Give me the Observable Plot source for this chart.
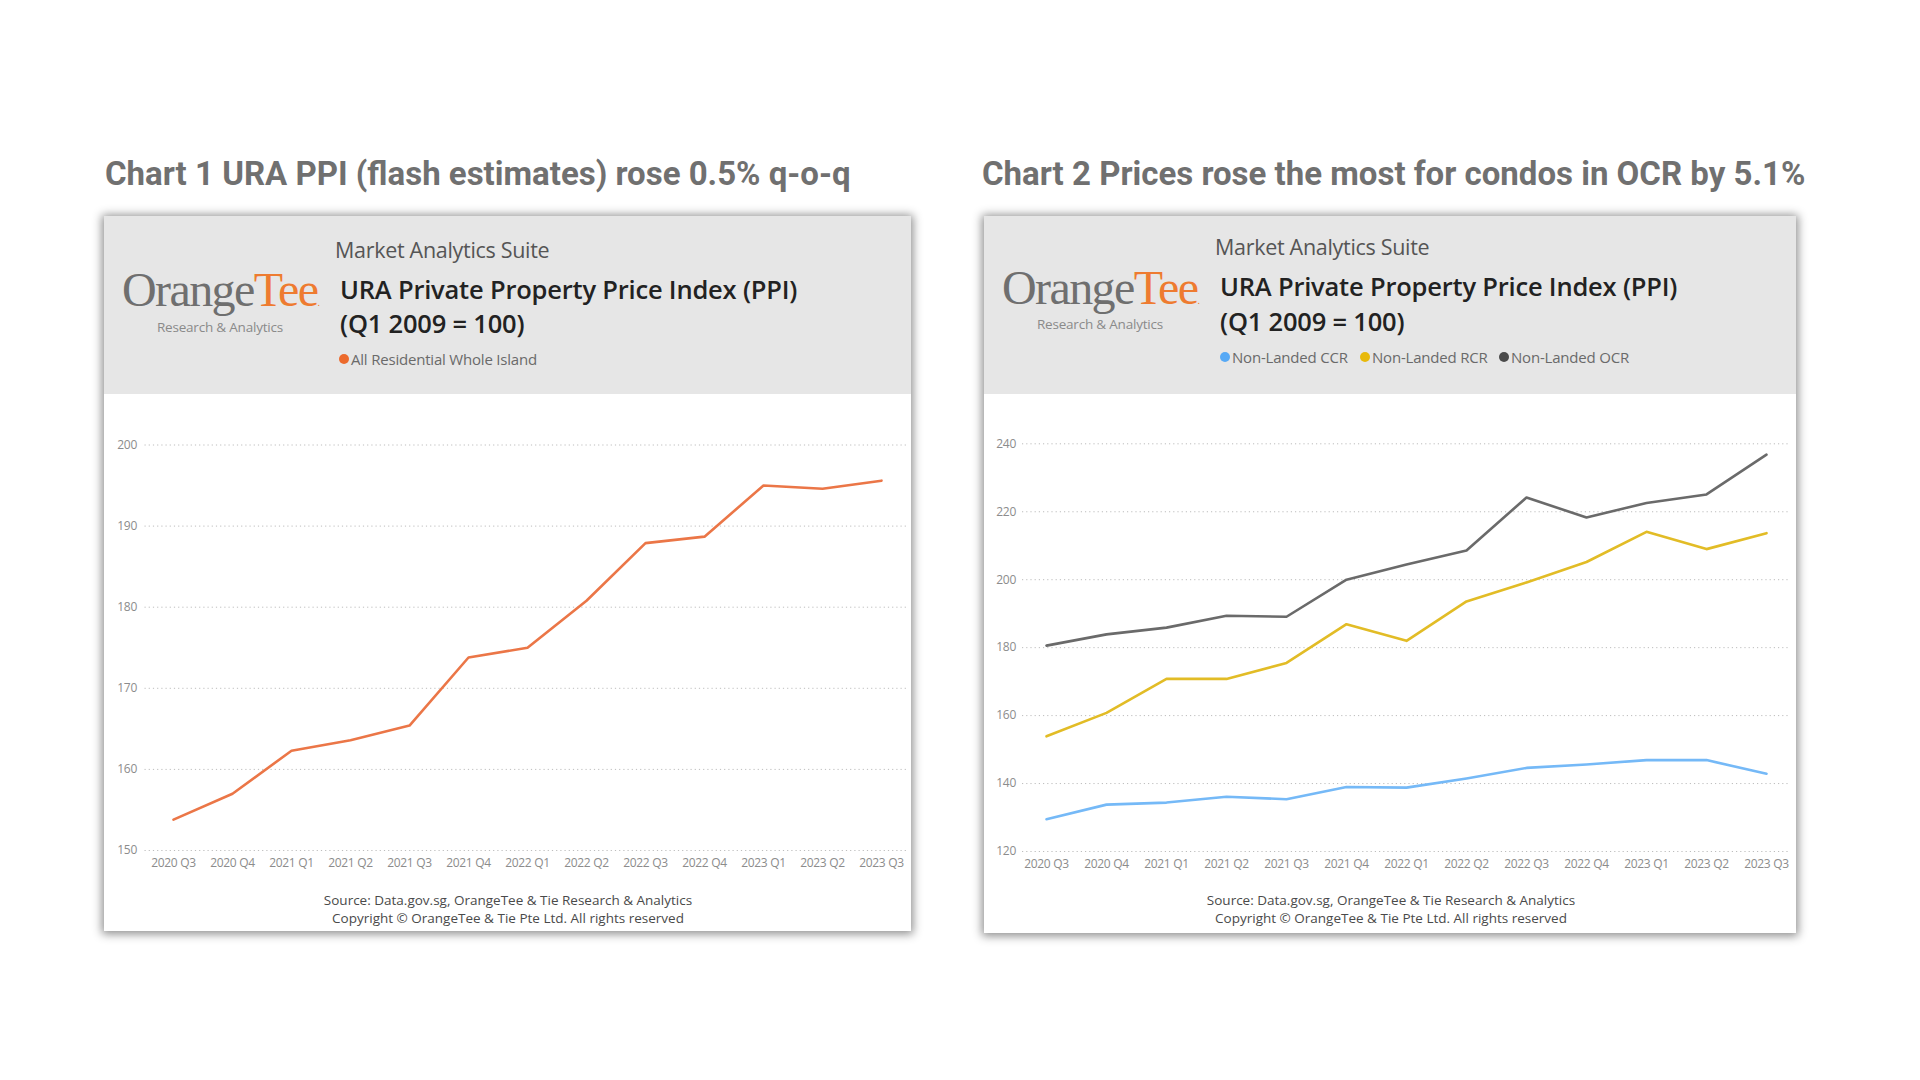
<!DOCTYPE html>
<html>
<head>
<meta charset="utf-8">
<script src="https://cdn.jsdelivr.net/npm/d3@7"></script>
<script src="https://cdn.jsdelivr.net/npm/@observablehq/plot@0.6"></script>
<style>
  html, body { margin: 0; padding: 0; background: #fff; }
  body { width: 1920px; height: 1080px; position: relative; overflow: hidden; font-family: "Open Sans", sans-serif; }
  .title { position: absolute; font-family: Roboto, sans-serif; font-weight: 700; font-size: 33px; color: #707070; line-height: 40px; white-space: nowrap; }
  .panel { position: absolute; background: #fff; box-shadow: 0 1px 9px 2px rgba(0,0,0,0.45); overflow: hidden; }
  .header { position: absolute; left: 0; top: 0; width: 100%; height: 178px; background: #e6e6e6; }
  .t { position: absolute; white-space: nowrap; }
  .logo { position: absolute; font-family: "Liberation Serif", serif; font-size: 48px; letter-spacing: -1.6px; color: #6f6f6f; line-height: 1; }
  .logo .tee { color: #ee7b30; }
  .logo .dot { font-size: 10px; color: #ee7b30; letter-spacing: 0; }
  .ra { position: absolute; font-size: 13.5px; color: #8a8a8a; transform: translate(-50%, -50%); white-space: nowrap; letter-spacing: -0.2px; }
  .mas { font-size: 21.5px; color: #555; line-height: 28px; letter-spacing: -0.3px; }
  .hd { font-size: 25.5px; font-weight: 600; color: #222; line-height: 32px; letter-spacing: -0.2px; }
  .lg { font-size: 15px; color: #6a6a6a; line-height: 20px; letter-spacing: -0.2px; }
  .dotm { position: absolute; width: 10px; height: 10px; border-radius: 50%; transform: translate(-50%, -50%); }
  .cap { position: absolute; font-size: 13.5px; color: #4a4a4a; transform: translate(-50%, -50%); white-space: nowrap; }
  .plot { position: absolute; left: 0; top: 178px; }
</style>
</head>
<body>
<div class="title" style="left:105px; top:154px;">Chart 1 URA PPI (flash estimates) rose 0.5% q-o-q</div>
<div class="title" style="left:982px; top:154px;">Chart 2 Prices rose the most for condos in OCR by 5.1%</div>

<div class="panel" id="p1" style="left:104px; top:216px; width:807px; height:715px;">
  <div class="header"></div>
  <div class="logo" style="left:18px; top:50px;">Orange<span class="tee">Tee</span><span class="dot">.</span></div>
  <div class="ra" style="left:116px; top:111px;">Research &amp; Analytics</div>
  <div class="t mas" style="left:231px; top:20px;">Market Analytics Suite</div>
  <div class="t hd" style="left:236px; top:57px;">URA Private Property Price Index (PPI)</div>
  <div class="t hd" style="left:236px; top:91px;">(Q1 2009 = 100)</div>
  <div id="legend1"></div>
  <div class="plot" id="plot1"></div>
  <div class="cap" style="left:404px; top:684px;">Source: Data.gov.sg, OrangeTee &amp; Tie Research &amp; Analytics</div>
  <div class="cap" style="left:404px; top:702px;">Copyright © OrangeTee &amp; Tie Pte Ltd. All rights reserved</div>
</div>

<div class="panel" id="p2" style="left:984px; top:216px; width:812px; height:717px;">
  <div class="header"></div>
  <div class="logo" style="left:18px; top:48px;">Orange<span class="tee">Tee</span><span class="dot">.</span></div>
  <div class="ra" style="left:116px; top:108px;">Research &amp; Analytics</div>
  <div class="t mas" style="left:231px; top:17px;">Market Analytics Suite</div>
  <div class="t hd" style="left:236px; top:54px;">URA Private Property Price Index (PPI)</div>
  <div class="t hd" style="left:236px; top:89px;">(Q1 2009 = 100)</div>
  <div id="legend2"></div>
  <div class="plot" id="plot2"></div>
  <div class="cap" style="left:407px; top:684px;">Source: Data.gov.sg, OrangeTee &amp; Tie Research &amp; Analytics</div>
  <div class="cap" style="left:407px; top:702px;">Copyright © OrangeTee &amp; Tie Pte Ltd. All rights reserved</div>
</div>

<script>
// ---- Data ----
const quarters = ["2020 Q3","2020 Q4","2021 Q1","2021 Q2","2021 Q3","2021 Q4","2022 Q1","2022 Q2","2022 Q3","2022 Q4","2023 Q1","2023 Q2","2023 Q3"];
const allResidential = [153.8, 157.0, 162.3, 163.6, 165.4, 173.8, 175.0, 180.8, 187.9, 188.7, 195.0, 194.6, 195.6];
const nonLandedCCR = [129.5, 133.8, 134.4, 136.1, 135.4, 139.0, 138.8, 141.5, 144.6, 145.6, 146.9, 146.9, 142.9];
const nonLandedRCR = [153.9, 160.8, 170.8, 170.8, 175.5, 186.9, 182.0, 193.6, 199.2, 205.2, 214.1, 209.0, 213.7];
const nonLandedOCR = [180.6, 183.9, 185.9, 189.4, 189.1, 200.0, 204.5, 208.6, 224.2, 218.3, 222.6, 225.1, 236.8];
const yTicks1 = [150, 160, 170, 180, 190, 200];
const yTicks2 = [120, 140, 160, 180, 200, 220, 240];
const series1Names = ["All Residential Whole Island"];
const series2Names = ["Non-Landed CCR", "Non-Landed RCR", "Non-Landed OCR"];

// ---- Styles ----
const c1 = "#eb7647";
const legendDot1 = "#ec6a2c";
const colors2 = ["#75b9f7", "#e2bc26", "#6a6a6a"];
const legendDots2 = ["#57a9f5", "#e8b90a", "#4a4a4a"];

function legend(el, names, dots, positions, cy) {
  names.forEach((n, i) => {
    const d = document.createElement("div");
    d.className = "dotm";
    d.style.left = positions[i] + "px";
    d.style.top = cy + "px";
    d.style.background = dots[i];
    el.appendChild(d);
    const t = document.createElement("div");
    t.className = "t lg";
    t.style.left = (positions[i] + 7) + "px";
    t.style.top = (cy - 10) + "px";
    t.textContent = n;
    el.appendChild(t);
  });
}
legend(document.getElementById("legend1"), series1Names, [legendDot1], [240], 143);
legend(document.getElementById("legend2"), series2Names, legendDots2, [241, 381, 520], 141);

const data1 = quarters.map((q, i) => ({q, v: allResidential[i]}));
const data2 = [];
series2Names.forEach((s, k) => {
  const vals = [nonLandedCCR, nonLandedRCR, nonLandedOCR][k];
  quarters.forEach((q, i) => data2.push({q, v: vals[i], s}));
});

const axisStyle = {fontFamily: "Open Sans, sans-serif", fontSize: "12px", color: "#8c8c8c", background: "transparent", overflow: "visible", letterSpacing: "-0.3px"};

const plot1 = Plot.plot({
  width: 807, height: 490,
  marginLeft: 40.5, marginRight: 2.5, marginTop: 50.5, marginBottom: 34,
  style: axisStyle,
  x: {type: "point", domain: quarters, padding: 0.42, label: null, tickSize: 0, tickPadding: 8},
  y: {domain: [150, 200], ticks: yTicks1, label: null, tickSize: 0, tickPadding: 8},
  marks: [
    Plot.gridY(yTicks1, {stroke: "#bdbdbd", strokeOpacity: 1, strokeDasharray: "1.2,3"}),
    Plot.lineY(data1, {x: "q", y: "v", stroke: c1, strokeWidth: 2.6})
  ]
});
document.getElementById("plot1").appendChild(plot1);

const plot2 = Plot.plot({
  width: 812, height: 490,
  marginLeft: 38, marginRight: 6, marginTop: 49.3, marginBottom: 33,
  style: axisStyle,
  x: {type: "point", domain: quarters, padding: 0.4, label: null, tickSize: 0, tickPadding: 7.5},
  y: {domain: [120, 240], ticks: yTicks2, label: null, tickSize: 0, tickPadding: 6.5},
  color: {domain: series2Names, range: colors2},
  marks: [
    Plot.gridY(yTicks2, {stroke: "#bdbdbd", strokeOpacity: 1, strokeDasharray: "1.2,3"}),
    Plot.lineY(data2, {x: "q", y: "v", z: "s", stroke: "s", strokeWidth: 2.6})
  ]
});
document.getElementById("plot2").appendChild(plot2);
</script>
</body>
</html>
